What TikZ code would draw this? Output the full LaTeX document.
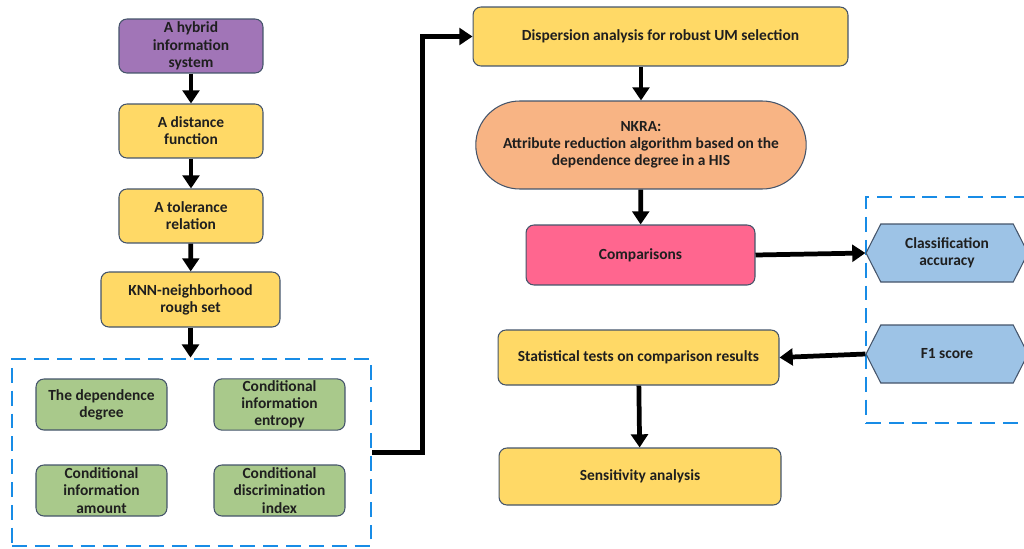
\documentclass[tikz,border=0pt]{standalone}
\usepackage{fontspec}
\setmainfont{Carlito}
\usetikzlibrary{arrows.meta,shapes.misc,shapes.symbols}
\definecolor{hispurple}{RGB}{161,117,183}
\definecolor{stepyellow}{RGB}{255,217,102}
\definecolor{measgreen}{RGB}{169,201,139}
\definecolor{algorange}{RGB}{248,180,132}
\definecolor{cmppink}{RGB}{255,102,143}
\definecolor{evalblue}{RGB}{157,195,230}
\definecolor{grpblue}{RGB}{24,140,230}
\definecolor{edgegray}{RGB}{68,84,106}
\newcommand{\fs}{\fontsize{8.8}{9.8}\selectfont\bfseries}

\begin{document}
\begin{tikzpicture}[x=0.02cm,y=-0.02cm,
   box/.style={draw=edgegray,line width=0.6pt,rounded corners=4.5pt,
     align=center,inner sep=1pt,font=\fs,text=black!88},
   grp/.style={draw=grpblue,line width=1.6pt,dash pattern=on 8.5pt off 4.5pt,
     inner sep=0pt},
   hexa/.style={draw=edgegray,line width=0.6pt,fill=evalblue,shape=signal,
     signal to=west and east,signal pointer angle=126,align=center,
     inner sep=1pt,font=\fs,text=black!88},
   flow/.style={line width=2.7pt,-{Triangle[length=7.5pt,width=9.5pt]}}]
   \useasboundingbox (0,0) rectangle (1024,548);
   \clip (0,0) rectangle (1024,548);
   \node[box,fill=hispurple,minimum width=2.88cm,minimum height=1.08cm]
    (his)  at (191,46)  {A hybrid\\information\\system};
   \node[box,fill=stepyellow,minimum width=2.88cm,minimum height=1.08cm]
    (dist) at (191,131) {A distance\\function};
   \node[box,fill=stepyellow,minimum width=2.88cm,minimum height=1.08cm]
    (tol)  at (191,216) {A tolerance\\relation};
   \node[box,fill=stepyellow,minimum width=3.58cm,minimum height=1.10cm]
    (knn)  at (190.5,299.5) {KNN-neighborhood\\rough set};
   \node[grp,minimum width=7.18cm,minimum height=3.74cm]
    (lgrp) at (191.5,452.5) {};
   \node[box,fill=measgreen,minimum width=2.62cm,minimum height=1.02cm]
    (dep)  at (101.5,404.5) {The dependence\\degree};
   \node[box,fill=measgreen,minimum width=2.62cm,minimum height=1.02cm]
    (ent)  at (279.5,404.5) {Conditional\\information\\entropy};
   \node[box,fill=measgreen,minimum width=2.62cm,minimum height=1.02cm]
    (amt)  at (101.5,490.5) {Conditional\\information\\amount};
   \node[box,fill=measgreen,minimum width=2.62cm,minimum height=1.02cm]
    (cdi)  at (279.5,490.5) {Conditional\\discrimination\\index};
   \node[box,fill=stepyellow,minimum width=7.50cm,minimum height=1.18cm]
    (disp) at (660.5,36.5) {Dispersion analysis for robust UM selection};
   \node[box,fill=algorange,shape=rounded rectangle,rounded corners=0pt,
     minimum width=6.68cm,minimum height=1.76cm]
    (nkra) at (641,145) {NKRA:\\Attribute reduction algorithm based on the\\dependence degree in a HIS};
   \node[box,fill=cmppink,minimum width=4.58cm,minimum height=1.20cm]
    (comp) at (640.5,255) {Comparisons};
   \node[box,fill=stepyellow,minimum width=5.62cm,minimum height=1.10cm]
    (stat) at (638.5,357.5) {Statistical tests on comparison results};
   \node[box,fill=stepyellow,minimum width=5.64cm,minimum height=1.14cm]
    (sens) at (640,476.5) {Sensitivity analysis};
   \node[grp,minimum width=3.48cm,minimum height=4.52cm]
    (rgrp) at (953,310) {};
   \node[hexa,minimum width=3.24cm,minimum height=1.16cm]
    (acc)  at (947,253) {Classification\\accuracy};
   \node[hexa,minimum width=3.24cm,minimum height=1.16cm]
    (f1)   at (947,354) {F1 score};
   \draw[flow] (his)  -- (dist);
   \draw[flow] (dist) -- (tol);
   \draw[flow] (tol)  -- (knn);
   \draw[flow] (knn)  -- (lgrp.north -| knn);
   \draw[flow] (lgrp.east) -- ++(1cm,0) |- (disp.west);
   \draw[flow] (nkra.north |- disp.south) -- (nkra.north);
   \draw[flow] (nkra) -- (comp);
   \draw[flow] (comp.east) -- (acc.west);
   \draw[flow] (f1.west) -- (stat.east);
   \draw[flow] (stat) -- (sens);
\end{tikzpicture}
\end{document}
